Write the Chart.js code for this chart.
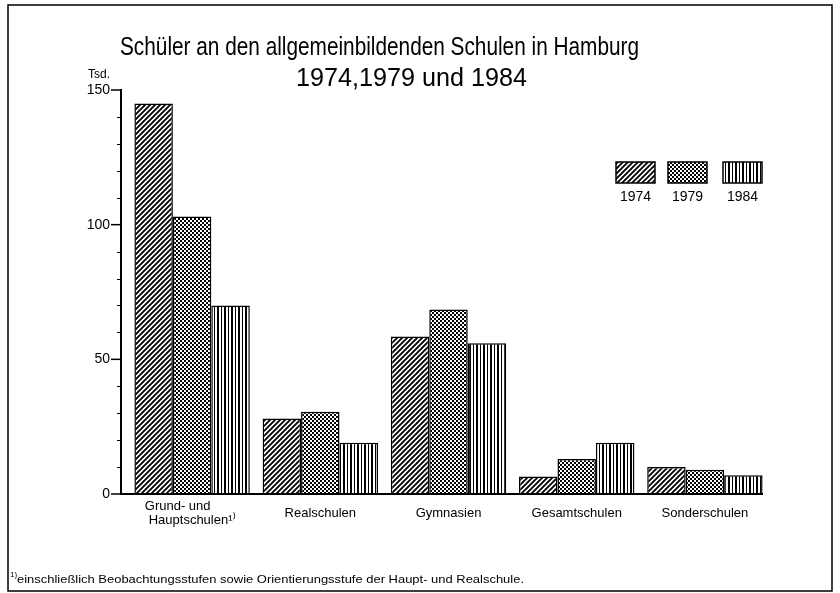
<!DOCTYPE html>
<html><head><meta charset="utf-8">
<script src="https://cdn.jsdelivr.net/npm/chart.js@4/dist/chart.umd.min.js"></script>
<style>html,body{margin:0;padding:0;background:#fff;overflow:hidden}#wrap{width:840px;height:593px;position:relative}</style>
</head><body><div id="wrap"><canvas id="c" width="840" height="593"></canvas></div>
<script>
// ---- data ----
const categories = [["Grund- und        ", "Hauptschulen\u00B9\u207E"], "Realschulen", "Gymnasien", "Gesamtschulen", "Sonderschulen"];
const years = ["1974", "1979", "1984"];
const values1974 = [145, 28, 58.5, 6.5, 10];
const values1979 = [103, 30.5, 68.5, 13, 9];
const values1984 = [70, 19, 56, 19, 7];
const yTicks = [0, 50, 100, 150];
const yMinorStep = 10;
const titleLines = ["Schüler an den allgemeinbildenden Schulen in Hamburg", "1974,1979 und 1984"];
const unitLabel = "Tsd.";
const footnoteMark = "1)";
const footnoteText = "einschließlich Beobachtungsstufen sowie Orientierungsstufe der Haupt- und Realschule.";

const FONT = "'Liberation Sans', Arial, Helvetica, sans-serif";

// ---- patterns ----
function mk(w, h, fn) {
  const c = document.createElement('canvas'); c.width = w; c.height = h;
  const x = c.getContext('2d'); x.fillStyle = '#fff'; x.fillRect(0, 0, w, h); fn(x, w, h);
  return document.getElementById('c').getContext('2d').createPattern(c, 'repeat');
}
const pHatch = mk(5, 5, (x, s) => {
  x.strokeStyle = '#000'; x.lineWidth = 1.9; x.beginPath();
  x.moveTo(0, s); x.lineTo(s, 0);
  x.moveTo(-1, 1); x.lineTo(1, -1);
  x.moveTo(s - 1, s + 1); x.lineTo(s + 1, s - 1);
  x.stroke();
});
const pDots = mk(4, 4, (x) => {
  x.fillStyle = '#000'; x.fillRect(0, 0, 2, 2); x.fillRect(2, 2, 2, 2);
});
const pVert = mk(7, 1, (x) => {
  x.fillStyle = '#000'; x.fillRect(0, 0, 2, 1); x.fillRect(4, 0, 1, 1);
});
const patterns = [pHatch, pDots, pVert];
const seriesValues = [values1974, values1979, values1984];

function fitText(ctx, text, left, baseline, width, size) {
  ctx.font = size + "px " + FONT;
  const w = ctx.measureText(text).width;
  ctx.save();
  ctx.translate(left, baseline);
  ctx.scale(width / w, 1);
  ctx.textAlign = 'left'; ctx.textBaseline = 'alphabetic';
  ctx.fillText(text, 0, 0);
  ctx.restore();
}

const decor = {
  id: 'decor',
  beforeDraw(chart) {
    const c = chart.ctx; c.save(); c.fillStyle = '#fff'; c.fillRect(0, 0, chart.width, chart.height); c.restore();
  },
  afterDatasetsDraw(chart) {
    const c = chart.ctx, ys = chart.scales.y;
    const y0 = ys.getPixelForValue(0), yTop = ys.getPixelForValue(yTicks[yTicks.length - 1]);
    const ax = 121;
    c.save();
    c.strokeStyle = '#000'; c.lineCap = 'butt';
    // axes
    c.lineWidth = 2;
    c.beginPath(); c.moveTo(ax, yTop - 1); c.lineTo(ax, y0 + 1); c.stroke();
    c.beginPath(); c.moveTo(ax - 1, y0); c.lineTo(763, y0); c.stroke();
    // major ticks
    c.lineWidth = 1.5;
    yTicks.forEach(v => { const p = ys.getPixelForValue(v); c.beginPath(); c.moveTo(111, p); c.lineTo(ax, p); c.stroke(); });
    // minor ticks
    c.lineWidth = 1;
    for (let v = 0; v <= yTicks[yTicks.length - 1]; v += yMinorStep) {
      if (yTicks.includes(v)) continue;
      const p = Math.round(ys.getPixelForValue(v)) + 0.5; c.beginPath(); c.moveTo(117, p); c.lineTo(ax, p); c.stroke();
    }
    // title
    c.fillStyle = '#000';
    fitText(c, titleLines[0], 120, 55, 519, 25);
    fitText(c, titleLines[1], 296, 86, 231, 25);
    // unit
    c.font = "12px " + FONT; c.textAlign = 'left'; c.textBaseline = 'alphabetic';
    c.fillText(unitLabel, 88, 78);
    // legend
    const lx = [616, 668, 723], lw = 39, ly = 162, lh = 21;
    chart.data.datasets.forEach((ds, i) => {
      c.fillStyle = ds.backgroundColor; c.fillRect(lx[i], ly, lw, lh);
      c.lineWidth = 1.5; c.strokeStyle = '#000'; c.strokeRect(lx[i], ly, lw, lh);
      c.fillStyle = '#000'; c.font = "14px " + FONT; c.textAlign = 'center'; c.textBaseline = 'middle';
      c.fillText(ds.label, lx[i] + lw / 2, 197);
    });
    // footnote
    c.font = "8px " + FONT; c.textAlign = 'left'; c.textBaseline = 'alphabetic';
    c.fillText(footnoteMark, 10, 577);
    fitText(c, footnoteText, 17, 583, 507, 11);
    // frame
    c.lineWidth = 1.5; c.strokeStyle = '#000';
    c.strokeRect(8, 5, 824, 586);
    c.restore();
  }
};

new Chart(document.getElementById('c'), {
  type: 'bar',
  data: {
    labels: categories,
    datasets: years.map((y, i) => ({
      label: y, data: seriesValues[i], backgroundColor: patterns[i],
      borderColor: '#000', borderWidth: 1.5, borderSkipped: 'start',
      categoryPercentage: 0.9, barPercentage: 1.0
    }))
  },
  options: {
    responsive: false, animation: false, devicePixelRatio: 1,
    layout: { padding: { top: 90, right: 71, left: 0, bottom: 0 } },
    plugins: { legend: { display: false }, title: { display: false }, tooltip: { enabled: false } },
    scales: {
      x: {
        grid: { display: false, drawTicks: false }, border: { display: false },
        ticks: { font: { family: FONT, size: 13, lineHeight: 1.1 }, color: '#000', padding: 12, maxRotation: 0, autoSkip: false, crossAlign: 'center' },
        afterFit(s) { s.height = 99; }
      },
      y: {
        min: 0, max: 150,
        grid: { display: false, drawTicks: false }, border: { display: false },
        ticks: { font: { family: FONT, size: 14 }, color: '#000', padding: 18 },
        afterBuildTicks(s) { s.ticks = yTicks.map(v => ({ value: v })); },
        afterFit(s) { s.width = 128; }
      }
    }
  },
  plugins: [decor]
});
</script>
</body></html>
